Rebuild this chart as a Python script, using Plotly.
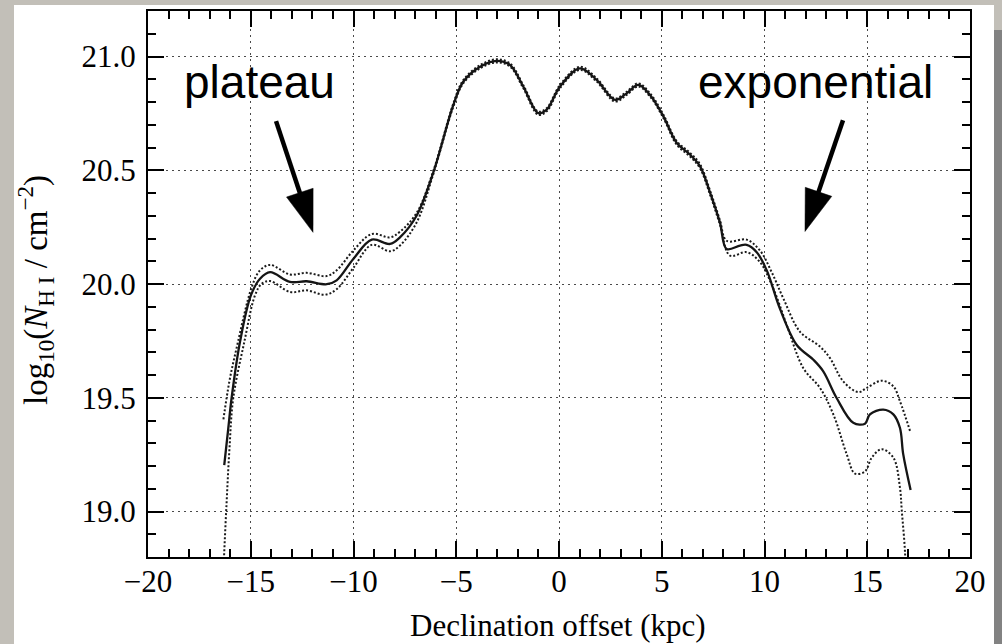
import math
import plotly.graph_objects as go

# Column density profile along the declination offset (kpc)
offset_kpc = [-16.29, -16.10, -15.93, -15.52, -14.99, -14.55, -14.06, -13.09, -12.28, -11.30,
              -10.82, -10.01, -9.11, -8.22, -7.74, -6.93, -6.12, -5.14, -4.66, -3.84,
              -3.03, -2.38, -1.74, -1.01, -0.60, 0.05, 1.02, 1.83, 2.73, 3.29,
              3.86, 4.43, 5.08, 5.73, 6.37, 6.86, 7.35, 7.83, 8.16, 8.81,
              9.13, 9.62, 10.11, 10.75, 11.57, 12.38, 12.86, 13.51, 14.32, 14.89,
              15.13, 15.78, 16.27, 16.59, 16.75, 17.11]
log_nhi = [19.204, 19.36, 19.50, 19.747, 19.951, 20.023, 20.052, 20.009, 20.012, 19.999,
           20.016, 20.110, 20.195, 20.176, 20.205, 20.300, 20.489, 20.787, 20.889, 20.955,
           20.981, 20.962, 20.868, 20.751, 20.766, 20.868, 20.948, 20.897, 20.809, 20.838,
           20.875, 20.831, 20.737, 20.620, 20.569, 20.518, 20.402, 20.271, 20.154, 20.169,
           20.172, 20.140, 20.060, 19.892, 19.732, 19.667, 19.616, 19.499, 19.390, 19.386,
           19.427, 19.448, 19.427, 19.368, 19.252, 19.095]

# Upper uncertainty envelope
offset_upper = [-16.33, -16.04, -15.69, -14.95, -14.55, -14.06, -13.09, -12.28, -11.30, -10.82,
                -10.01, -9.11, -8.22, -7.74, -6.93, -6.12, -5.14, -4.66, -3.84, -3.03,
                -2.38, -1.74, -1.01, -0.60, 0.05, 1.02, 1.83, 2.73, 3.29, 3.86,
                4.43, 5.08, 5.73, 6.37, 6.86, 7.35, 7.83, 8.16, 9.13, 9.78,
                10.35, 10.92, 11.73, 12.70, 13.19, 13.83, 14.56, 14.97, 15.70, 16.27,
                16.59, 17.11]
log_nhi_upper = [19.405, 19.572, 19.718, 19.987, 20.060, 20.084, 20.042, 20.049, 20.035, 20.060,
                 20.147, 20.220, 20.205, 20.230, 20.312, 20.496, 20.794, 20.896, 20.962, 20.988,
                 20.969, 20.875, 20.758, 20.773, 20.875, 20.955, 20.904, 20.816, 20.845, 20.882,
                 20.838, 20.744, 20.628, 20.577, 20.527, 20.411, 20.281, 20.190, 20.195, 20.147,
                 20.052, 19.936, 19.790, 19.725, 19.674, 19.572, 19.525, 19.543, 19.575, 19.550,
                 19.485, 19.346]

# Lower uncertainty envelope
offset_lower = [-16.36, -16.30, -16.18, -16.04, -15.85, -15.31, -14.79, -14.47, -14.06, -13.09,
                -12.28, -11.39, -10.82, -10.01, -9.11, -8.22, -7.74, -6.93, -6.12, -5.14,
                -4.66, -3.84, -3.03, -2.38, -1.74, -1.01, -0.60, 0.05, 1.02, 1.83,
                2.73, 3.29, 3.86, 4.43, 5.08, 5.73, 6.37, 6.86, 7.35, 7.83,
                8.32, 9.13, 9.78, 10.43, 11.08, 11.89, 12.70, 13.35, 14.00, 14.40,
                14.89, 15.22, 15.70, 16.27, 16.59, 16.68, 16.84, 16.88]
log_nhi_lower = [18.65, 18.80, 19.03, 19.27, 19.499, 19.747, 19.951, 20.001, 20.013, 19.965,
                 19.972, 19.953, 19.977, 20.070, 20.172, 20.144, 20.169, 20.270, 20.482, 20.780,
                 20.882, 20.948, 20.974, 20.955, 20.861, 20.744, 20.759, 20.861, 20.941, 20.890,
                 20.802, 20.831, 20.868, 20.824, 20.730, 20.612, 20.561, 20.509, 20.393, 20.262,
                 20.125, 20.140, 20.096, 19.980, 19.820, 19.630, 19.543, 19.427, 19.252, 19.167,
                 19.176, 19.237, 19.274, 19.237, 19.106, 19.004, 18.817, 18.65]

X_RANGE = [-20, 20]
Y_RANGE = [18.8, 21.2]

W, H = 1002, 644
M_L, M_R, M_T, M_B = 148, 32, 9, 87
PLOT_W = W - M_L - M_R
PLOT_H = H - M_T - M_B

SERIF = "Liberation Serif, Times New Roman, serif"
SANS = "Liberation Sans, Arial, Helvetica, sans-serif"

fig = go.Figure()

dot_style = dict(color="#1a1a1a", width=2, dash="2px,2px")
fig.add_trace(go.Scatter(x=offset_upper, y=log_nhi_upper, mode="lines",
                         line=dict(shape="spline", **dot_style), showlegend=False))
fig.add_trace(go.Scatter(x=offset_lower, y=log_nhi_lower, mode="lines",
                         line=dict(shape="spline", **dot_style), showlegend=False))
fig.add_trace(go.Scatter(x=offset_kpc, y=log_nhi, mode="lines",
                         line=dict(shape="spline", color="#151515", width=2.3),
                         showlegend=False))


def arrow_shapes(tail, tip, head_len=42, half_w=14, width=4.5):
    """Shaft plus filled triangular head, sized in screen pixels."""
    sx = PLOT_W / (X_RANGE[1] - X_RANGE[0])
    sy = PLOT_H / (Y_RANGE[1] - Y_RANGE[0])
    dx = (tip[0] - tail[0]) * sx
    dy = (tip[1] - tail[1]) * sy
    length = math.hypot(dx, dy)
    ux, uy = dx / length, dy / length
    bx = tip[0] - head_len * ux / sx
    by = tip[1] - head_len * uy / sy
    px, py = -uy, ux
    c1 = (bx + half_w * px / sx, by + half_w * py / sy)
    c2 = (bx - half_w * px / sx, by - half_w * py / sy)
    mx = tip[0] - (head_len - 4) * ux / sx
    my = tip[1] - (head_len - 4) * uy / sy
    shaft = dict(type="line", xref="x", yref="y", x0=tail[0], y0=tail[1], x1=mx, y1=my,
                 line=dict(color="black", width=width))
    head = dict(type="path", xref="x", yref="y",
                path=f"M {tip[0]},{tip[1]} L {c1[0]},{c1[1]} L {c2[0]},{c2[1]} Z",
                fillcolor="black", line=dict(color="black", width=0.5))
    return [shaft, head]


def px_x(p):
    return (p - M_L) / PLOT_W


def px_y(p):
    return (H - M_B - p) / PLOT_H


shapes = [
    # slide backdrop panel behind the chart
    dict(type="rect", xref="paper", yref="paper", layer="below",
         x0=px_x(14), x1=px_x(994), y0=px_y(H + 2), y1=px_y(3),
         fillcolor="white", line=dict(width=0)),
    dict(type="rect", xref="paper", yref="paper", layer="below",
         x0=px_x(994), x1=px_x(W + 2), y0=px_y(H + 2), y1=px_y(28),
         fillcolor="#828282", line=dict(width=0)),
]
shapes += arrow_shapes((-13.77, 20.716), (-11.97, 20.227))
shapes += arrow_shapes((13.82, 20.72), (11.97, 20.231))

annotations = [
    dict(text="plateau", x=-14.57, y=20.89, xref="x", yref="y", showarrow=False,
         xanchor="center", yanchor="middle", font=dict(family=SANS, size=46, color="black")),
    dict(text="exponential", x=12.46, y=20.89, xref="x", yref="y", showarrow=False,
         xanchor="center", yanchor="middle", font=dict(family=SANS, size=46, color="black")),
    dict(text="Declination offset (kpc)", x=px_x(558), y=px_y(626), xref="paper", yref="paper",
         showarrow=False, xanchor="center", yanchor="middle",
         font=dict(family=SERIF, size=31, color="black")),
    dict(text="log<sub>10</sub>(<i>N</i><sub>H I</sub> / cm<sup>−2</sup>)",
         x=px_x(36), y=px_y(289), xref="paper", yref="paper", showarrow=False,
         textangle=-90, xanchor="center", yanchor="middle",
         font=dict(family=SERIF, size=33, color="black")),
]

axis_common = dict(
    showline=True, linecolor="black", linewidth=2, mirror="allticks",
    ticks="inside", tickcolor="black", tickwidth=2, ticklen=16,
    showgrid=True, gridcolor="#4a4a4a", gridwidth=1.2, griddash="1.5px,4.5px",
    zeroline=False, tickfont=dict(family=SERIF, size=31, color="black"),
)

fig.update_layout(
    width=W, height=H,
    margin=dict(l=M_L, r=M_R, t=M_T, b=M_B),
    paper_bgcolor="#c2bfb8", plot_bgcolor="white",
    xaxis=dict(range=X_RANGE, dtick=5, tick0=0, ticklabelstandoff=-4,
               minor=dict(dtick=1, ticks="inside", ticklen=8, tickwidth=2,
                          tickcolor="black", showgrid=False),
               **axis_common),
    yaxis=dict(range=Y_RANGE, dtick=0.5, tick0=0, tickformat=".1f", ticklabelstandoff=4,
               minor=dict(dtick=0.1, ticks="inside", ticklen=8, tickwidth=2,
                          tickcolor="black", showgrid=False),
               **axis_common),
    shapes=shapes,
    annotations=annotations,
)

fig.write_html("out.html")
